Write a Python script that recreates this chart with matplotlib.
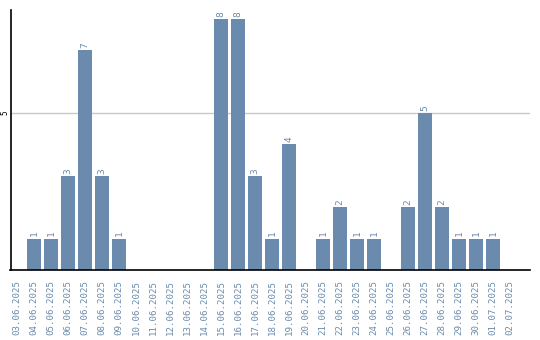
import matplotlib
matplotlib.use('Agg')
import matplotlib.pyplot as plt

# data
dates = ['03.06.2025', '04.06.2025', '05.06.2025', '06.06.2025', '07.06.2025',
         '08.06.2025', '09.06.2025', '10.06.2025', '11.06.2025', '12.06.2025',
         '13.06.2025', '14.06.2025', '15.06.2025', '16.06.2025', '17.06.2025',
         '18.06.2025', '19.06.2025', '20.06.2025', '21.06.2025', '22.06.2025',
         '23.06.2025', '24.06.2025', '25.06.2025', '26.06.2025', '27.06.2025',
         '28.06.2025', '29.06.2025', '30.06.2025', '01.07.2025', '02.07.2025']
counts = [0, 1, 1, 3, 7, 3, 1, 0, 0, 0, 0, 0, 8, 8, 3, 1, 4, 0, 1, 2,
          1, 1, 0, 2, 5, 2, 1, 1, 1, 0]
y_ticks = [5]

bar_color = '#6a8bad'
label_color = '#6a8bad'

fig = plt.figure(figsize=(5.4, 3.4), dpi=100)
ax = fig.add_axes([10.5 / 540, 70 / 340, 519.5 / 540, 260 / 340])

x = list(range(len(dates)))
ax.bar(x, counts, width=0.82, color=bar_color, zorder=2)

# value labels above non-empty bars
for xi, c in zip(x, counts):
    if c > 0:
        ax.text(xi, c + 0.07, str(c), rotation=90, ha='center', va='bottom',
                fontsize=6.8, family='DejaVu Sans Mono', color=label_color)

ax.set_xlim(-0.38, 30.18)
ax.set_ylim(0, 8.28)

ax.set_yticks(y_ticks)
ax.set_yticklabels([str(t) for t in y_ticks], rotation=90, va='center',
                   fontsize=5.5, family='DejaVu Sans Mono')
ax.yaxis.grid(True, color='#c8c8c8', linewidth=1, zorder=0)
ax.tick_params(axis='y', length=0, pad=1)

ax.set_xticks(x)
ax.set_xticklabels(dates, rotation=90, fontsize=6.6, family='DejaVu Sans Mono',
                   color=label_color)
ax.tick_params(axis='x', length=0, pad=7)

for side in ['top', 'right']:
    ax.spines[side].set_visible(False)
ax.spines['left'].set_color('black')
ax.spines['bottom'].set_color('black')
ax.spines['left'].set_linewidth(1.2)
ax.spines['bottom'].set_linewidth(1.2)

fig.savefig('out.png', dpi=100)
